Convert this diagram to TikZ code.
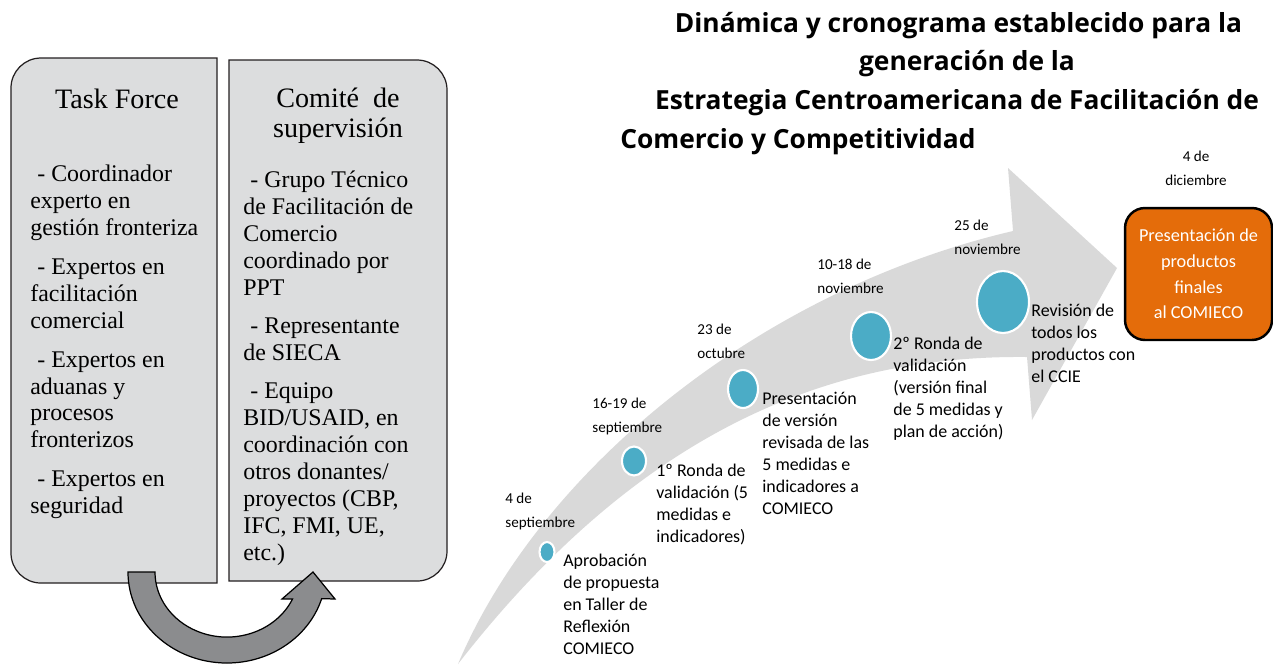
\documentclass[tikz,border=0pt]{standalone}
\usepackage{fontspec}
\setmainfont{Liberation Serif}
\newfontfamily\lblfont{Carlito}
\newfontfamily\ttlfont{Open Sans}
\usetikzlibrary{shapes.geometric}

\definecolor{panelgray}{HTML}{DCDDDE}
\definecolor{panelline}{HTML}{231F20}
\definecolor{arrowgray}{HTML}{D9D9D9}
\definecolor{turngray}{HTML}{8B8C8E}
\definecolor{dotblue}{HTML}{4BACC6}
\definecolor{orangebox}{HTML}{E46C0A}

\begin{document}
\begin{tikzpicture}[x=0.02cm,y=-0.02cm,
    panel/.style={fill=panelgray,draw=panelline,line width=0.7pt},
    turn/.style={fill=turngray,draw=black,line width=0.7pt},
    milestone/.style={ellipse,fill=dotblue,draw=white,line width=1.2pt,inner sep=0pt},
    datelbl/.style={anchor=north west,align=left,inner sep=0pt,
        font=\lblfont\fontsize{8.6}{13.6}\selectfont},
    desclbl/.style={anchor=north west,align=left,inner sep=0pt,
        font=\lblfont\fontsize{10.2}{12.5}\selectfont},
    paneltxt/.style={anchor=north west,align=left,inner sep=0pt,
        font=\fontsize{13.6}{15.3}\selectfont},
    paneltitle/.style={anchor=north,align=center,inner sep=0pt,
        font=\fontsize{16}{17}\selectfont},
    ttl/.style={anchor=base,inner sep=0pt,font=\ttlfont\bfseries\fontsize{15}{21}\selectfont}]
    \useasboundingbox (0,0) rectangle (1273,664);

    % panels
    \draw[panel](217,58)--(41,58)arc[start angle=-90,end angle=-180,radius=30]
        --(11,553)arc[start angle=180,end angle=90,radius=30]--(217,583)--cycle;
    \draw[panel](229,60)--(417,60)arc[start angle=-90,end angle=0,radius=30]
        --(447,551)arc[start angle=0,end angle=90,radius=30]--(229,581)--cycle;

    \node[paneltitle](tf)at(117,89){Task Force};
    \node[paneltxt](tftxt)at(30,165){\hspace*{4pt}- Coordinador\\experto en\\gestión fronteriza\\[6.8pt]
        \hspace*{4pt}- Expertos en\\facilitación\\comercial\\[6.8pt]
        \hspace*{4pt}- Expertos en\\aduanas y\\procesos\\fronterizos\\[6.8pt]
        \hspace*{4pt}- Expertos en\\seguridad};

    \node[paneltitle](cs)at(338,88){Comité~~de\\supervisión};
    \node[paneltxt](cstxt)at(243,171){\hspace*{4pt}- Grupo Técnico\\de Facilitación de\\Comercio\\coordinado por\\PPT\\[6.2pt]
        \hspace*{4pt}- Representante\\de SIECA\\[6.8pt]
        \hspace*{4pt}- Equipo\\BID/USAID, en\\coordinación con\\otros donantes/\\proyectos (CBP,\\IFC, FMI, UE,\\etc.)};

    % vuelta
    \draw[turn](128,572)arc[start angle=180,end angle=17,x radius=99,y radius=91]
        --(335,599)--(313,572)--(282,599)--(292.5,599)
        arc[start angle=24.5,end angle=180,x radius=72,y radius=65]--cycle;

    % flecha
    \fill[arrowgray](458,664)..controls(540,470)and(760,290)..(1013,231)
        --(1008,168)--(1117,268)--(1032,420)--(1027,357)
        ..controls(830,355)and(640,430)..(458,664)--cycle;

    % titulo
    \node[ttl](t1)at(958.5,32){Dinámica y cronograma establecido para la};
    \node[ttl](t2)at(967,70.5){generación de la};
    \node[ttl](t3)at(957,109){Estrategia Centroamericana de Facilitación de};
    \node[ttl,anchor=base west](t4)at(620,148){Comercio y Competitividad};

    % hitos
    \node[milestone,minimum width=0.3cm,minimum height=0.4cm](m1)at(547,552){};
    \node[milestone,minimum width=0.48cm,minimum height=0.58cm](m2)at(634,461){};
    \node[milestone,minimum width=0.6cm,minimum height=0.76cm](m3)at(743,389){};
    \node[milestone,minimum width=0.8cm,minimum height=0.96cm](m4)at(871,336){};
    \node[milestone,minimum width=1.04cm,minimum height=1.24cm](m5)at(1003,302){};

    \node[datelbl](d1)at(505,493){4 de\\septiembre};
    \node[datelbl](d2)at(592,398){16-19 de\\septiembre};
    \node[datelbl](d3)at(697,324){23 de\\octubre};
    \node[datelbl](d4)at(817,259){10-18 de\\noviembre};
    \node[datelbl](d5)at(954,220){25 de\\noviembre};
    \node[datelbl,anchor=north,align=center](d6)at(1196,151){4 de\\diciembre};

    \node[desclbl](a1)at(563,554){Aprobación\\de propuesta\\en Taller de\\Reflexión\\COMIECO};
    \node[desclbl](a2)at(656,464){1º Ronda de\\validación (5\\medidas e\\indicadores)};
    \node[desclbl](a3)at(762,392){Presentación\\de versión\\revisada de las\\5 medidas e\\indicadores a\\COMIECO};
    \node[desclbl](a4)at(893,337){2º Ronda de\\validación\\(versión final\\de 5 medidas y\\plan de acción)};
    \node[desclbl](a5)at(1031,304){Revisión de\\todos los\\productos con\\el CCIE};

    \node[fill=orangebox,draw=black,line width=1.4pt,rounded corners=0.4cm,
        minimum width=2.94cm,minimum height=2.64cm,align=center,text=white,
        font=\lblfont\fontsize{10.4}{14.6}\selectfont](fin)at(1198.5,274)
        {Presentación de\\productos\\finales\\al COMIECO};
\end{tikzpicture}
\end{document}
